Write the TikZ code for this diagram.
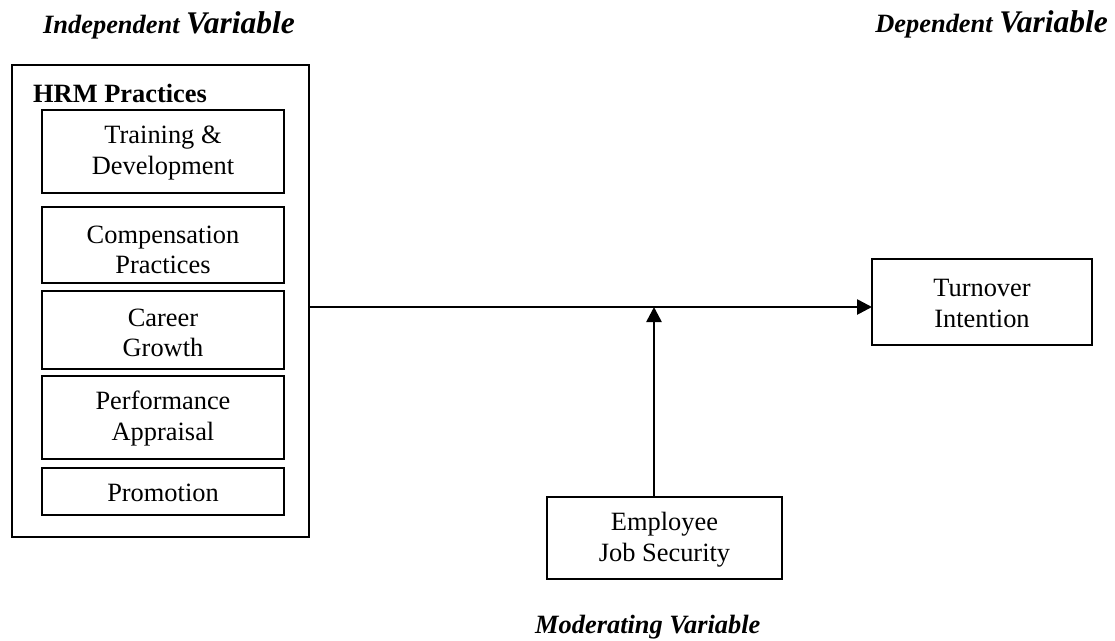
\documentclass[tikz,border=0pt]{standalone}
\usepackage{fontspec}
\setmainfont{Liberation Serif}
\usetikzlibrary{arrows.meta}

\tikzset{
  frame/.style={draw, line width=2.3pt, inner sep=0pt, outer sep=0pt},
  label/.style={inner sep=0pt, align=center, font=\fontsize{26.4}{30.5}\selectfont},
  heading/.style={inner sep=0pt, font=\fontsize{26.4}{30}\selectfont\bfseries\itshape},
  link/.style={line width=2.6pt, -{Triangle[length=15pt,width=15pt]}}
}
\newcommand{\bigword}[1]{{\fontsize{31.5}{34}\selectfont #1}}

\begin{document}
\begin{tikzpicture}[x=1pt,y=-1pt]
\useasboundingbox (0,0) rectangle (1115,640);

% variable headings
\node[heading, anchor=base west] (ivar) at (43,33) {Independent \bigword{Variable}};
\node[heading, anchor=base east] (dvar) at (1108,32) {Dependent \bigword{Variable}};
\node[heading, anchor=base west] (mvar) at (535,633) {Moderating Variable};

% HRM practices group
\node[frame, minimum width=297pt, minimum height=472pt] (hrm) at (160.5,301) {};
\node[inner sep=0pt, anchor=base west, font=\fontsize{26.4}{30}\selectfont\bfseries] (hrmt) at (33,102) {HRM Practices};

\node[frame, minimum width=242pt, minimum height=83pt] (td) at (163,151.5) {};
\node[label] (tdt) at (163,153) {Training \&\\Development};

\node[frame, minimum width=242pt, minimum height=76pt] (cp) at (163,245) {};
\begin{scope}
  \clip (42,208) rectangle (284,274.5);
  \node[label] (cpt) at (163,250) {Compensation\\Practices};
\end{scope}

\node[frame, minimum width=242pt, minimum height=78pt] (cg) at (163,330) {};
\node[label] (cgt) at (163,333) {Career\\Growth};

\node[frame, minimum width=242pt, minimum height=83pt] (pa) at (163,417.5) {};
\node[label] (pat) at (163,418.5) {Performance\\Appraisal};

\node[frame, minimum width=242pt, minimum height=47pt] (pr) at (163,491.5) {};
\node[label] (prt) at (163,493) {Promotion};

% outcome and moderator
\node[frame, minimum width=220pt, minimum height=86pt] (tv) at (982,302) {};
\node[label] (tvt) at (982,303.5) {Turnover\\Intention};

\node[frame, minimum width=235pt, minimum height=82pt] (emp) at (664.5,538) {};
\node[label] (empt) at (664.5,539.5) {Employee\\Job Security};

% connectors
\coordinate (j) at (654,307);
\draw[link] (hrm.east |- j) -- (tv.west |- j);
\draw[link] (emp.north -| j) -- (j);
\end{tikzpicture}
\end{document}
